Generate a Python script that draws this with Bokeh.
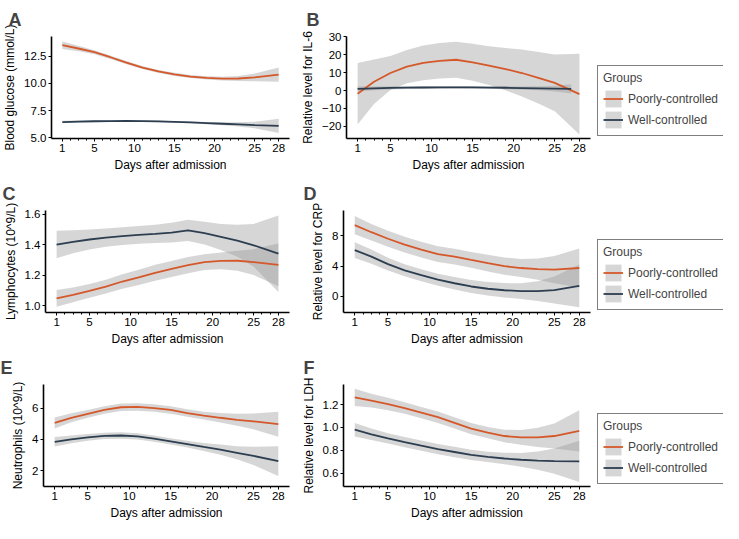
from bokeh.plotting import figure
from bokeh.models import Range1d, FixedTicker, Legend, LegendItem
from bokeh.layouts import row, column
from bokeh.embed import file_html
from bokeh.resources import INLINE

# ---------------- data ----------------
days = [1, 3, 5, 7, 9, 11, 13, 15, 17, 19, 21, 23, 25, 28]
days_il6_well = [1, 3, 5, 7, 9, 11, 13, 15, 17, 19, 21, 23, 25, 27]

x_tick_values = [1, 5, 10, 15, 20, 25, 28]
x_minor_ticks = list(range(1, 29))

groups = ["Poorly-controlled", "Well-controlled"]

glucose_poor = [13.5, 13.2, 12.86, 12.4, 11.9, 11.45, 11.1, 10.83, 10.63, 10.5, 10.44, 10.45, 10.55, 10.8]
glucose_poor_ci = [0.35, 0.25, 0.19, 0.16, 0.15, 0.14, 0.14, 0.14, 0.14, 0.15, 0.17, 0.22, 0.35, 0.65]
glucose_well = [6.46, 6.5, 6.53, 6.55, 6.56, 6.55, 6.52, 6.47, 6.42, 6.36, 6.3, 6.24, 6.18, 6.1]
glucose_well_ci = [0.12, 0.09, 0.08, 0.07, 0.07, 0.07, 0.07, 0.07, 0.08, 0.1, 0.14, 0.2, 0.3, 0.65]
glucose_ticks = [5.0, 7.5, 10.0, 12.5]
glucose_tick_labels = ["5.0", "7.5", "10.0", "12.5"]

il6_poor = [-1.8, 4.9, 9.8, 13.4, 15.5, 16.6, 17.2, 15.8, 13.9, 12.0, 9.8, 7.1, 4.3, -2.0]
il6_poor_ci = [17.2, 12.4, 9.5, 9.3, 9.7, 9.9, 10.0, 10.3, 10.8, 11.8, 13.1, 14.4, 15.9, 22.6]
il6_well = [0.9, 1.2, 1.45, 1.6, 1.7, 1.75, 1.8, 1.75, 1.65, 1.55, 1.4, 1.25, 1.1, 0.9]
il6_well_ci = [1.5, 1.1, 0.9, 0.8, 0.7, 0.7, 0.7, 0.7, 0.7, 0.8, 0.9, 1.1, 1.6, 2.6]
il6_ticks = [-20, -10, 0, 10, 20, 30]
il6_tick_labels = ["\u221220", "\u221210", "0", "10", "20", "30"]

lymph_poor = [1.048, 1.07, 1.096, 1.125, 1.158, 1.185, 1.215, 1.24, 1.265, 1.285, 1.293, 1.294, 1.285, 1.267]
lymph_poor_ci = [0.055, 0.048, 0.045, 0.045, 0.047, 0.05, 0.052, 0.053, 0.053, 0.052, 0.055, 0.065, 0.085, 0.14]
lymph_well = [1.40, 1.418, 1.433, 1.445, 1.455, 1.463, 1.47, 1.478, 1.493, 1.475, 1.45, 1.425, 1.395, 1.34]
lymph_well_ci = [0.09, 0.075, 0.065, 0.06, 0.058, 0.058, 0.06, 0.065, 0.07, 0.075, 0.085, 0.105, 0.14, 0.25]
lymph_ticks = [1.0, 1.2, 1.4, 1.6]
lymph_tick_labels = ["1.0", "1.2", "1.4", "1.6"]

crp_poor = [9.44, 8.5, 7.63, 6.86, 6.2, 5.6, 5.27, 4.83, 4.4, 4.0, 3.75, 3.6, 3.54, 3.75]
crp_poor_ci = [1.2, 1.1, 1.05, 1.05, 1.05, 1.05, 1.05, 1.05, 1.1, 1.15, 1.2, 1.4, 1.8, 2.6]
crp_well = [6.13, 5.27, 4.27, 3.45, 2.8, 2.2, 1.73, 1.3, 1.0, 0.8, 0.68, 0.68, 0.83, 1.38]
crp_well_ci = [1.05, 0.95, 0.85, 0.8, 0.8, 0.8, 0.82, 0.85, 0.9, 0.95, 1.05, 1.3, 1.8, 2.85]
crp_ticks = [0, 4, 8]
crp_tick_labels = ["0", "4", "8"]

neut_poor = [5.05, 5.38, 5.63, 5.88, 6.05, 6.07, 6.0, 5.88, 5.68, 5.52, 5.38, 5.25, 5.15, 4.97]
neut_poor_ci = [0.35, 0.28, 0.25, 0.24, 0.24, 0.24, 0.24, 0.24, 0.24, 0.25, 0.3, 0.38, 0.5, 0.8]
neut_well = [3.85, 4.0, 4.13, 4.22, 4.25, 4.2, 4.05, 3.88, 3.7, 3.52, 3.35, 3.15, 2.95, 2.62]
neut_well_ci = [0.3, 0.25, 0.22, 0.2, 0.2, 0.2, 0.2, 0.2, 0.22, 0.25, 0.32, 0.42, 0.58, 0.95]
neut_ticks = [2, 4, 6]
neut_tick_labels = ["2", "4", "6"]

ldh_poor = [1.263, 1.235, 1.205, 1.17, 1.13, 1.09, 1.04, 0.99, 0.955, 0.925, 0.913, 0.913, 0.925, 0.97]
ldh_poor_ci = [0.075, 0.06, 0.055, 0.05, 0.05, 0.05, 0.05, 0.05, 0.05, 0.055, 0.065, 0.085, 0.11, 0.18]
ldh_well = [0.98, 0.94, 0.905, 0.872, 0.84, 0.81, 0.785, 0.76, 0.742, 0.728, 0.717, 0.71, 0.705, 0.703]
ldh_well_ci = [0.06, 0.05, 0.045, 0.045, 0.045, 0.045, 0.045, 0.045, 0.045, 0.05, 0.06, 0.08, 0.11, 0.18]
ldh_ticks = [0.6, 0.8, 1.0, 1.2]
ldh_tick_labels = ["0.6", "0.8", "1.0", "1.2"]

# ---------------- styling ----------------
ORANGE = "#D5582A"
NAVY = "#2C3E50"
BAND = "#999999"
FONT = "Liberation Sans"
ROW_H = 174
LEFT_W = 297
RIGHT_W = 299
LEG_W = 127


def band_bounds(vals, ci):
    lo = [v - c for v, c in zip(vals, ci)]
    hi = [v + c for v, c in zip(vals, ci)]
    return lo, hi


def make_panel(letter, ylabel, yr, yticks, ylabels, poor, poor_ci, well, well_ci,
               width, bl, br, letter_offset, well_days=None):
    p = figure(width=width, height=ROW_H, output_backend="svg", toolbar_location=None,
               x_range=Range1d(-0.35, 29.35), y_range=Range1d(yr[0], yr[1]),
               min_border_left=bl, min_border_right=br, min_border_top=30,
               min_border_bottom=30)
    p.outline_line_color = None
    p.xgrid.visible = False
    p.ygrid.visible = False

    wd = well_days if well_days is not None else days
    lo_p, hi_p = band_bounds(poor, poor_ci)
    lo_w, hi_w = band_bounds(well, well_ci)
    p.varea(x=days, y1=lo_p, y2=hi_p, fill_color=BAND, fill_alpha=0.4)
    p.varea(x=wd, y1=lo_w, y2=hi_w, fill_color=BAND, fill_alpha=0.4)
    p.line(x=days, y=poor, line_color=ORANGE, line_width=1.8)
    p.line(x=wd, y=well, line_color=NAVY, line_width=1.8)

    p.title.text = letter
    p.title.text_font = FONT
    p.title.text_font_size = "18px"
    p.title.text_font_style = "bold"
    p.title.align = "left"
    p.title.offset = letter_offset
    p.title.standoff = 14

    for ax in (p.xaxis[0], p.yaxis[0]):
        ax.axis_line_width = 1.6
        ax.axis_line_color = "black"
        ax.major_tick_line_color = "black"
        ax.major_tick_out = 3
        ax.major_tick_in = 0
        ax.major_label_text_font = FONT
        ax.major_label_text_font_size = "11.5px"
        ax.major_label_text_color = "black"
        ax.axis_label_text_font = FONT
        ax.axis_label_text_font_size = "12px"
        ax.axis_label_text_font_style = "normal"
        ax.axis_label_text_color = "black"
        ax.major_label_standoff = 2

    xa = p.xaxis[0]
    xa.ticker = FixedTicker(ticks=x_tick_values, minor_ticks=x_minor_ticks)
    xa.minor_tick_line_color = "black"
    xa.minor_tick_out = 2
    xa.minor_tick_in = 0
    xa.axis_label = "Days after admission"
    xa.axis_label_standoff = 3

    ya = p.yaxis[0]
    ya.ticker = FixedTicker(ticks=yticks)
    ya.minor_tick_line_color = None
    ya.major_label_overrides = {t: lab for t, lab in zip(yticks, ylabels)}
    ya.axis_label = ylabel
    ya.axis_label_standoff = 4
    return p


def make_legend_fig(poor, poor_ci, well, well_ci):
    lf = figure(width=LEG_W, height=ROW_H, output_backend="svg", toolbar_location=None,
                x_range=Range1d(-0.35, 29.35), y_range=Range1d(0, 1),
                min_border_left=0, min_border_right=0, min_border_top=0,
                min_border_bottom=0)
    lf.axis.visible = False
    lf.grid.visible = False
    lf.outline_line_color = None
    lo_p, hi_p = band_bounds(poor, poor_ci)
    lo_w, hi_w = band_bounds(well, well_ci)
    # hidden copies of the panel's renderers: only their legend keys are shown
    rb1 = lf.varea(x=days, y1=lo_p, y2=hi_p, fill_color=BAND, fill_alpha=0.4, visible=False)
    rl1 = lf.line(x=days, y=poor, line_color=ORANGE, line_width=1.8, visible=False)
    rb2 = lf.varea(x=days, y1=lo_w, y2=hi_w, fill_color=BAND, fill_alpha=0.4, visible=False)
    rl2 = lf.line(x=days, y=well, line_color=NAVY, line_width=1.8, visible=False)
    legend = Legend(items=[LegendItem(label=groups[0], renderers=[rb1, rl1]),
                           LegendItem(label=groups[1], renderers=[rb2, rl2])],
                    title="Groups", location=(1, 2))
    legend.title_text_font = FONT
    legend.title_text_font_size = "12px"
    legend.title_text_font_style = "normal"
    legend.title_standoff = 3
    legend.label_text_font = FONT
    legend.label_text_font_size = "12px"
    legend.border_line_color = "black"
    legend.border_line_width = 1.5
    legend.background_fill_color = "white"
    legend.background_fill_alpha = 1.0
    legend.inactive_fill_alpha = 0.0
    legend.glyph_width = 20
    legend.glyph_height = 21
    legend.label_height = 21
    legend.label_standoff = 5
    legend.spacing = 0
    legend.padding = 5
    legend.margin = 0
    lf.add_layout(legend, "center")
    return lf


pa = make_panel("A", "Blood glucose (mmol/L)", (4.95, 14.3), glucose_ticks, glucose_tick_labels,
                glucose_poor, glucose_poor_ci, glucose_well, glucose_well_ci,
                LEFT_W, 43, 8, -43)
pb = make_panel("B", "Relative level for IL-6", (-26.8, 30.2), il6_ticks, il6_tick_labels,
                il6_poor, il6_poor_ci, il6_well, il6_well_ci,
                RIGHT_W, 46, 6, -40, well_days=days_il6_well)
pc = make_panel("C", "Lymphocytes (10^9/L)", (0.955, 1.623), lymph_ticks, lymph_tick_labels,
                lymph_poor, lymph_poor_ci, lymph_well, lymph_well_ci,
                LEFT_W, 43, 8, -43)
pd = make_panel("D", "Relative level for CRP", (-2.15, 11.38), crp_ticks, crp_tick_labels,
                crp_poor, crp_poor_ci, crp_well, crp_well_ci,
                RIGHT_W, 46, 6, -40)
pe = make_panel("E", "Neutrophils (10^9/L)", (1.0, 7.5), neut_ticks, neut_tick_labels,
                neut_poor, neut_poor_ci, neut_well, neut_well_ci,
                LEFT_W, 43, 8, -43)
pf = make_panel("F", "Relative level for LDH", (0.483, 1.376), ldh_ticks, ldh_tick_labels,
                ldh_poor, ldh_poor_ci, ldh_well, ldh_well_ci,
                RIGHT_W, 46, 6, -40)

layout = column(row(pa, pb, make_legend_fig(il6_poor, il6_poor_ci, il6_well, il6_well_ci)),
                row(pc, pd, make_legend_fig(crp_poor, crp_poor_ci, crp_well, crp_well_ci)),
                row(pe, pf, make_legend_fig(ldh_poor, ldh_poor_ci, ldh_well, ldh_well_ci)))

open("out.html", "w").write(file_html(layout, INLINE))
